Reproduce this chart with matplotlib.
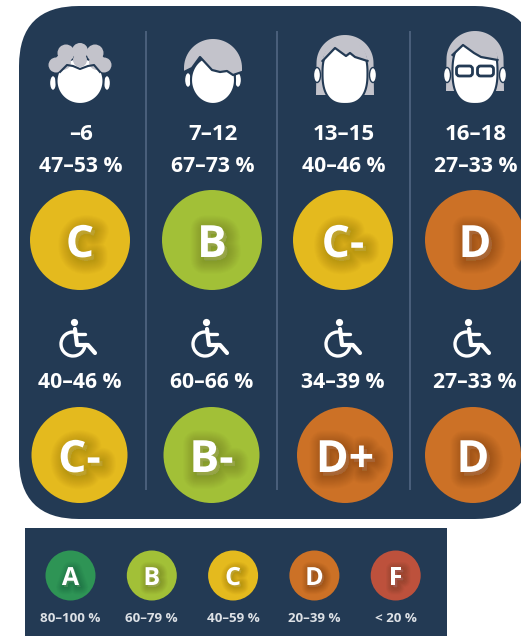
import numpy as np
import matplotlib
matplotlib.use('Agg')
import matplotlib.pyplot as plt
import matplotlib.patheffects as pe
from matplotlib.patches import Circle, Ellipse, FancyBboxPatch, Polygon, Rectangle, Arc

plt.rcParams['font.family'] = ['Open Sans', 'DejaVu Sans']

ages = ['–6', '7–12', '13–15', '16–18']
all_pct = ['47–53 %', '67–73 %', '40–46 %', '27–33 %']
all_grades = ['C', 'B', 'C-', 'D']
dis_pct = ['40–46 %', '60–66 %', '34–39 %', '27–33 %']
dis_grades = ['C-', 'B-', 'D+', 'D']
legend_grades = ['A', 'B', 'C', 'D', 'F']
legend_ranges = ['80–100 %', '60–79 %', '40–59 %', '20–39 %', '< 20 %']

BG = '#233a54'
HAIR = '#c3c3cb'
DIVIDER = '#4b607c'
COLORS = {'A': '#2e9455', 'B': '#a2c037', 'C': '#e4ba1e', 'D': '#cc7126', 'F': '#bd513c'}

fig = plt.figure(figsize=(5.21, 6.36), dpi=100)
ax = fig.add_axes([0, 0, 1, 1])
ax.set_xlim(0, 521)
ax.set_ylim(636, 0)
ax.axis('off')


def shadow(size):
    # soft dark glow below and right of the letters, many thin layers so it doesn't band
    effects = []
    for w in np.linspace(size * 0.6, size * 0.05, 14):
        effects.append(pe.Stroke(linewidth=w, foreground='black', alpha=0.012,
                                 offset=(size * 0.07, -size * 0.08)))
    effects.append(pe.Normal())
    return effects


def badge(x, y, r, grade, size):
    ax.add_patch(Circle((x, y), r, color=COLORS[grade[0]], lw=0, zorder=3))
    ax.text(x, y, grade, color='white', fontsize=size, fontweight='bold', ha='center',
            va='center_baseline', zorder=4, path_effects=shadow(size))


def head(x, top, bottom, half, ear_y, ear_x, power=1.0):
    for s in (-1, 1):
        ax.add_patch(Ellipse((x + s * ear_x, ear_y), 7, 15, fc='white', ec=BG, lw=1, zorder=2))
    t = np.linspace(0, 2 * np.pi, 80)
    cy = (top + bottom) / 2
    ry = (bottom - top) / 2
    px = x + half * np.sign(np.cos(t)) * np.abs(np.cos(t)) ** power
    py = cy + ry * np.sign(np.sin(t)) * np.abs(np.sin(t)) ** power
    ax.add_patch(Polygon(np.c_[px, py], closed=True, fc='white', ec=BG, lw=1.5, zorder=3))


def dome(x, y, rx, ry, start=180, stop=360, n=40):
    t = np.radians(np.linspace(start, stop, n))
    return np.c_[x + rx * np.cos(t), y + ry * np.sin(t)]


def hair_fringe(x, arc, fringe):
    pts = np.c_[x + fringe[:, 0], fringe[:, 1]]
    ax.add_patch(Polygon(np.r_[arc, pts], closed=True, fc=HAIR, ec='none', zorder=4))
    ax.plot(pts[:, 0], pts[:, 1], color=BG, lw=1.6, solid_joinstyle='round', zorder=5)


def face_child(x):
    head(x, 58, 104, 23.5, 83, 27)
    blobs = [(-24, 65, 7.5), (-14, 53, 8.5), (0, 51, 8), (15, 53, 8.5), (24, 65, 7.5),
             (-17, 62, 8), (0, 60, 7), (17, 62, 8)]
    for dx, y, r in blobs:
        ax.add_patch(Circle((x + dx, y), r, color=HAIR, lw=0, zorder=4))
    fringe = np.array([[-20, 72], [-13, 65], [-7, 66], [0, 69], [8, 66], [14, 65], [20, 72]], float)
    ax.plot(x + fringe[:, 0], fringe[:, 1], color=BG, lw=1.5, zorder=5)


def face_boy(x):
    head(x, 56, 104, 22, 80, 25)
    arc = dome(x, 68, 29, 29)
    fringe = np.array([[29, 72], [20, 75], [14, 71], [7, 72], [-1, 70], [-13, 57], [-21, 68], [-29, 72]], float)
    hair_fringe(x, arc, fringe)


def face_teen(x, fringe, top, glasses=False):
    back = np.r_[dome(x, top + 28, 28.5, 28), [[x + 29, top + 60], [x + 22, top + 60],
                                                [x - 22, top + 60], [x - 29, top + 60]]]
    ax.add_patch(Polygon(back, closed=True, fc=HAIR, ec='none', zorder=1))
    head(x, top + 8, 104, 22.5, 75, 28, power=0.8)
    arc = dome(x, top + 28, 22.5, 24)
    hair_fringe(x, arc, fringe)
    if glasses:
        for s in (-1, 1):
            ax.add_patch(FancyBboxPatch((x + s * 10.5 - 8, 66), 16, 10, boxstyle='round,pad=0,rounding_size=3',
                                        fc='white', ec=BG, lw=2, zorder=5))


def wheelchair(x):
    ax.add_patch(Circle((x + 0.5, 322.5), 3.6, color='white', lw=0, zorder=3))
    ax.add_patch(Arc((x - 1, 344), 24, 24, theta1=-5, theta2=285, color='white', lw=2.4, zorder=3))
    ax.plot([x + 1, x + 3, x + 14, x + 21], [329, 345, 345, 353], color='white', lw=3,
            solid_capstyle='round', solid_joinstyle='round', zorder=3)
    ax.plot([x + 2, x + 11], [334, 334], color='white', lw=2.4, solid_capstyle='round', zorder=3)


# panels
ax.add_patch(FancyBboxPatch((19, 6), 516, 513, boxstyle='round,pad=0,rounding_size=60',
                            fc=BG, ec='none', zorder=0))
ax.add_patch(Rectangle((25, 528), 422, 108, fc=BG, ec='none', zorder=0))

for x in (146, 277, 410):
    ax.plot([x, x], [32, 489], color=DIVIDER, lw=1.4, zorder=1)

# main columns
text_x = [81, 213, 344, 476]
all_x = [80, 212, 343, 475]
dis_x = [79.5, 211.5, 345, 473]
dis_text_x = [80, 212, 343, 475]
chair_x = [74, 206, 339, 468]
for i in range(4):
    ax.text(text_x[i], 135, ages[i], color='white', fontsize=16, fontweight='bold', ha='center', va='center')
    ax.text(text_x[i], 167, all_pct[i], color='white', fontsize=15.2, fontweight='bold', ha='center', va='center')
    badge(all_x[i], 240, 50, all_grades[i], 32)
    wheelchair(chair_x[i])
    ax.text(dis_text_x[i], 383, dis_pct[i], color='white', fontsize=15.2, fontweight='bold', ha='center', va='center')
    badge(dis_x[i], 455, 48, dis_grades[i], 32)

face_child(80)
face_boy(213)
face_teen(345, np.array([[22.5, 61], [10, 57], [5, 53], [1, 56], [-10, 48], [-22.5, 61]], float), 35)
face_teen(475, np.array([[22.5, 60], [6, 57], [-1, 53], [-12, 45], [-22.5, 55]], float), 31, glasses=True)

# legend
for i, (g, r) in enumerate(zip(legend_grades, legend_ranges)):
    x = 70.5 + i * 81.3
    badge(x, 575.5, 25, g, 18)
    ax.text(x, 618, r, color='#dde1e6', fontsize=9.6, fontweight='bold', ha='center', va='center')

fig.savefig('out.png', dpi=100, facecolor='white')
